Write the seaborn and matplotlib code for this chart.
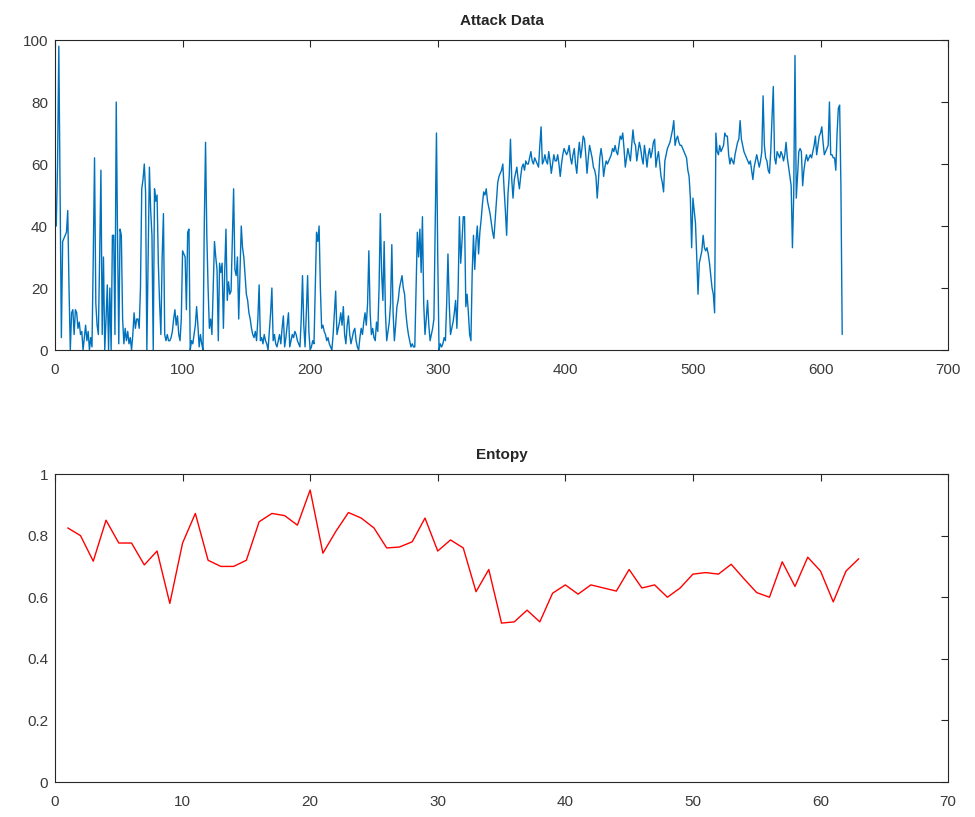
import numpy as np
import pandas as pd
import matplotlib
matplotlib.use("Agg")
import matplotlib.pyplot as plt
import seaborn as sns

# attack data (one value per sample, 617 samples)
attack_values = [
    40, 60, 98, 50, 4, 35, 36, 37, 38, 45, 20, 0, 12, 13, 5, 13, 12, 7, 9, 5,
    6, 0, 4, 8, 3, 6, 0, 4, 1, 30, 62, 15, 8, 5, 30, 58, 5, 30, 0, 10,
    21, 0, 20, 0, 37, 37, 5, 80, 37, 2, 39, 37, 10, 2, 7, 3, 6, 2, 4, 0,
    5, 12, 7, 10, 10, 7, 20, 52, 55, 60, 51, 0, 30, 59, 45, 37, 0, 52, 48, 50,
    28, 15, 5, 30, 44, 5, 3, 5, 3, 3, 4, 6, 10, 13, 8, 11, 5, 3, 10, 32,
    31, 30, 13, 38, 39, 0, 3, 2, 5, 8, 14, 8, 1, 5, 2, 0, 40, 67, 37, 20,
    7, 10, 5, 20, 35, 30, 26, 3, 28, 25, 28, 7, 25, 39, 16, 22, 18, 19, 35, 52,
    26, 24, 30, 10, 25, 40, 33, 30, 24, 18, 16, 12, 10, 7, 5, 4, 6, 3, 10, 21,
    3, 4, 2, 5, 3, 2, 0, 6, 12, 20, 3, 5, 2, 1, 3, 5, 2, 7, 11, 1,
    4, 8, 12, 1, 3, 5, 4, 6, 5, 3, 2, 1, 10, 24, 8, 1, 12, 24, 6, 0,
    1, 3, 2, 20, 38, 35, 40, 20, 7, 8, 6, 5, 3, 4, 2, 1, 0, 5, 12, 19,
    5, 7, 9, 12, 8, 14, 5, 2, 8, 11, 5, 2, 4, 6, 7, 3, 1, 0, 4, 7,
    5, 9, 12, 8, 15, 32, 12, 5, 7, 4, 3, 9, 6, 20, 44, 25, 16, 35, 12, 3,
    6, 9, 15, 34, 12, 3, 8, 14, 16, 20, 22, 24, 20, 18, 12, 8, 5, 3, 1, 2,
    1, 1, 20, 38, 30, 39, 25, 43, 15, 5, 10, 16, 8, 3, 5, 7, 10, 40, 70, 30,
    0, 2, 1, 2, 4, 3, 15, 31, 15, 5, 7, 9, 12, 16, 7, 20, 43, 28, 35, 43,
    43, 14, 18, 12, 5, 3, 25, 37, 26, 35, 40, 31, 38, 42, 47, 51, 50, 52, 48, 46,
    44, 41, 38, 36, 42, 48, 54, 56, 57, 58, 60, 52, 45, 37, 50, 56, 68, 55, 49, 55,
    57, 59, 55, 52, 56, 59, 60, 58, 61, 60, 60, 62, 64, 61, 60, 62, 61, 60, 59, 66,
    72, 60, 61, 63, 61, 60, 64, 61, 57, 60, 63, 61, 61, 63, 60, 56, 60, 63, 65, 64,
    63, 64, 66, 62, 60, 63, 65, 60, 57, 63, 67, 62, 65, 69, 68, 63, 57, 62, 66, 64,
    62, 59, 58, 56, 49, 55, 62, 65, 62, 56, 59, 61, 60, 61, 62, 63, 65, 64, 66, 64,
    63, 66, 69, 68, 70, 65, 59, 62, 65, 63, 61, 66, 71, 67, 66, 61, 64, 67, 65, 62,
    60, 66, 63, 59, 63, 65, 62, 64, 67, 68, 59, 62, 64, 60, 56, 54, 51, 61, 63, 65,
    66, 67, 69, 71, 74, 66, 68, 69, 67, 66, 66, 65, 64, 63, 62, 58, 56, 49, 33, 49,
    45, 41, 30, 18, 28, 30, 32, 37, 33, 32, 33, 31, 28, 24, 20, 18, 12, 70, 64, 63,
    66, 64, 65, 66, 70, 69, 69, 63, 60, 62, 61, 60, 63, 65, 67, 68, 74, 68, 66, 64,
    63, 62, 61, 60, 61, 58, 55, 59, 61, 63, 61, 59, 61, 64, 82, 66, 62, 61, 58, 57,
    64, 75, 85, 62, 60, 64, 63, 62, 64, 63, 61, 63, 67, 62, 59, 56, 53, 33, 50, 95,
    49, 56, 64, 65, 64, 53, 58, 61, 63, 61, 62, 63, 62, 64, 66, 69, 63, 66, 69, 70,
    72, 67, 63, 64, 65, 66, 80, 63, 63, 62, 62, 58, 70, 78, 79, 53, 5,
]

# entropy per window
entropy_values = [
    0.825, 0.80, 0.717, 0.85, 0.776, 0.776, 0.705, 0.75, 0.58, 0.776,
    0.872, 0.72, 0.70, 0.70, 0.72, 0.845, 0.872, 0.865, 0.834, 0.948,
    0.743, 0.813, 0.875, 0.857, 0.825, 0.76, 0.763, 0.78, 0.857, 0.75,
    0.786, 0.76, 0.618, 0.69, 0.516, 0.52, 0.558, 0.52, 0.613, 0.64,
    0.61, 0.64, 0.63, 0.62, 0.69, 0.63, 0.64, 0.60, 0.63, 0.675,
    0.68, 0.675, 0.707, 0.66, 0.615, 0.60, 0.715, 0.635, 0.73, 0.685,
    0.585, 0.685, 0.725,
]

attack_df = pd.DataFrame({"idx": np.arange(1, len(attack_values) + 1), "val": attack_values})
entropy_df = pd.DataFrame({"idx": np.arange(1, len(entropy_values) + 1), "val": entropy_values})

sns.set_style("white")
plt.rcParams["font.family"] = ["Liberation Sans", "DejaVu Sans"]

fig = plt.figure(figsize=(9.75, 8.17), dpi=100)
ax1 = fig.add_axes([0.0564, 0.5716, 0.916, 0.3794])
ax2 = fig.add_axes([0.0564, 0.0428, 0.916, 0.3770])

sns.lineplot(data=attack_df, x="idx", y="val", ax=ax1, color="#0072BD", linewidth=1.0)
sns.lineplot(data=entropy_df, x="idx", y="val", ax=ax2, color="#FF0000", linewidth=1.0)

ax1.set_xlim(0, 700)
ax1.set_ylim(0, 100)
ax1.set_xticks(range(0, 701, 100))
ax1.set_yticks(range(0, 101, 20))
ax1.set_title("Attack Data", fontsize=11, fontweight="bold", pad=11)

ax2.set_xlim(0, 70)
ax2.set_ylim(0, 1)
ax2.set_xticks(range(0, 71, 10))
ax2.set_yticks([0, 0.2, 0.4, 0.6, 0.8, 1])
ax2.set_yticklabels(["0", "0.2", "0.4", "0.6", "0.8", "1"])
ax2.set_title("Entopy", fontsize=11, fontweight="bold", pad=11)

for ax in (ax1, ax2):
    ax.set_xlabel("")
    ax.set_ylabel("")
    ax.tick_params(direction="in", top=True, right=True, length=5, width=0.8,
                   labelsize=11, colors="#262626", labelcolor="#3a3a3a", pad=5)
    ax.tick_params(axis="x", pad=9)
    for s in ax.spines.values():
        s.set_visible(True)
        s.set_color("#262626")
        s.set_linewidth(0.8)

plt.savefig("out.png", dpi=100)
